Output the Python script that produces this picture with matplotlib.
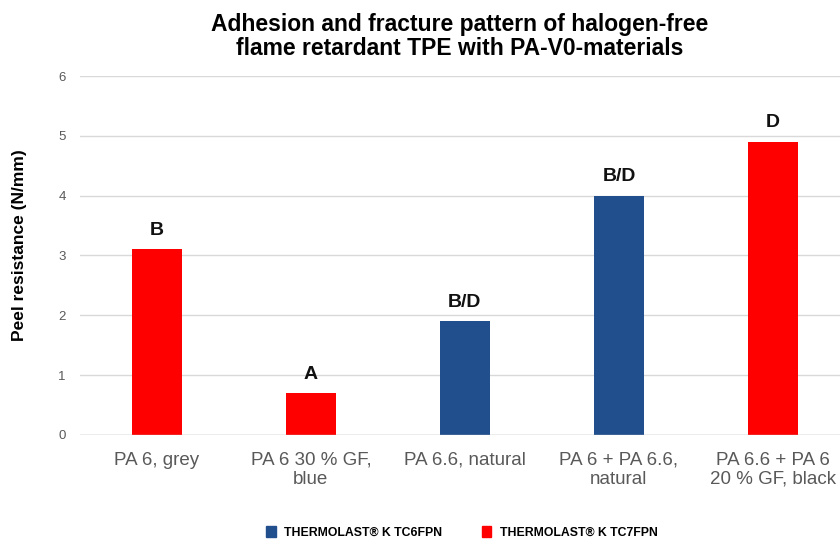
import numpy as np
import matplotlib.pyplot as plt
from matplotlib.patches import Patch

plt.rcParams['font.family'] = ['Liberation Sans', 'DejaVu Sans']

# ------------------------------------------------------------
# data
# ------------------------------------------------------------
categories = [
    "PA 6, grey",
    "PA 6 30 % GF,\nblue",
    "PA 6.6, natural",
    "PA 6 + PA 6.6,\nnatural",
    "PA 6.6 + PA 6\n20 % GF, black",
]
values = [3.1, 0.7, 1.9, 4.0, 4.9]
series = ["TC7FPN", "TC7FPN", "TC6FPN", "TC6FPN", "TC7FPN"]
fracture = ["B", "A", "B/D", "B/D", "D"]
legend_names = ["THERMOLAST\u00ae K TC6FPN", "THERMOLAST\u00ae K TC7FPN"]

colors = {"TC6FPN": "#214E8D", "TC7FPN": "#FF0000"}

# ------------------------------------------------------------
# plot
# ------------------------------------------------------------
fig = plt.figure(figsize=(8.4, 5.43), dpi=100)
ax = fig.add_axes([0.095, 0.199, 0.905, 0.661])

x = np.arange(len(categories))
ax.bar(x, values, width=0.325, color=[colors[s] for s in series], zorder=3)

for xi, v, lab in zip(x, values, fracture):
    ax.text(xi, v + 0.24, lab, ha="center", va="baseline",
            fontsize=14, fontweight="bold", color="#111111")

ax.set_ylim(0, 6)
ax.set_xlim(-0.5, 4.435)
ax.set_yticks(range(0, 7))
ax.yaxis.grid(True, color="#D9D9D9", linewidth=1, zorder=0)
ax.axhline(0, color="#BFBFBF", linewidth=1, zorder=4)
for sp in ax.spines.values():
    sp.set_visible(False)
ax.tick_params(axis="both", length=0, colors="#595959")
ax.tick_params(axis="y", labelsize=9.5, pad=10)
ax.tick_params(axis="x", labelsize=13.5, pad=12)
ax.set_xticks(x)
ax.set_xticklabels(categories, linespacing=1.15)

ax.set_ylabel("Peel resistance (N/mm)", fontsize=12.5, fontweight="bold",
              color="black")
ax.yaxis.set_label_coords(-0.069, 0.53)

fig.text(0.547, 0.933, "Adhesion and fracture pattern of halogen-free\n"
         "flame retardant TPE with PA-V0-materials",
         ha="center", va="center", fontsize=16.5, fontweight="bold",
         linespacing=1.02)

handles = [Patch(color=colors["TC6FPN"]), Patch(color=colors["TC7FPN"])]
fig.legend(handles, legend_names, loc="center", bbox_to_anchor=(0.55, 0.02),
           ncol=2, frameon=False, handlelength=0.8,
           handleheight=1.0, columnspacing=3.2, handletextpad=0.7,
           prop={"weight": "bold", "size": 8.8})

fig.savefig("out.png", dpi=100)
